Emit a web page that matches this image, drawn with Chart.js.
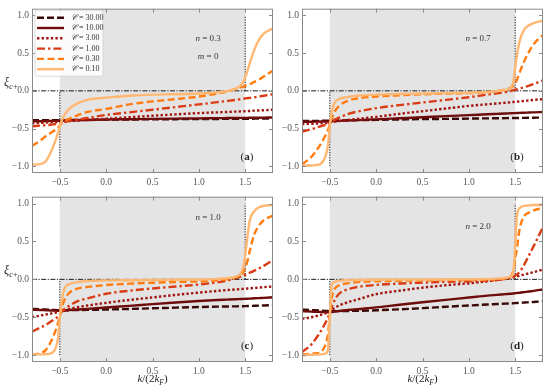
<!DOCTYPE html>
<html>
<head>
<meta charset="utf-8">
<script src="https://cdn.jsdelivr.net/npm/chart.js@4/dist/chart.umd.min.js"></script>
<style>
  html, body { margin: 0; padding: 0; background: #fff; }
  .wrap { position: relative; width: 546px; height: 388px; overflow: hidden; }
  .wrap canvas { position: absolute; }
</style>
</head>
<body>
<div class="wrap">
  <canvas id="panelA" width="276" height="190" style="left:0;top:0"></canvas>
  <canvas id="panelB" width="276" height="190" style="left:270px;top:0"></canvas>
  <canvas id="panelC" width="276" height="200" style="left:0;top:188px"></canvas>
  <canvas id="panelD" width="276" height="200" style="left:270px;top:188px"></canvas>
</div>
<script>
// k/(2kF) sample points shared by every curve
const kGrid = [-0.8, -0.7, -0.65, -0.6, -0.55, -0.52, -0.5, -0.48, -0.45, -0.4, -0.3, -0.2, 0, 0.25, 0.5, 0.75, 1.0, 1.2, 1.3, 1.4, 1.45, 1.48, 1.5, 1.52, 1.55, 1.6, 1.65, 1.7, 1.8]
const couplings = ['30.00', '10.00', '3.00', '1.00', '0.30', '0.10']
const densities = ['0.3', '0.7', '1.0', '2.0']
const panelTags = ['a', 'b', 'c', 'd']
const xTicks = [-0.5, 0, 0.5, 1.0, 1.5]
const yTicks = [-1.0, -0.5, 0, 0.5, 1.0]

// (a) n = 0.3
const xiA_30 = [-0.39, -0.39, -0.39, -0.39, -0.39, -0.39, -0.39, -0.39, -0.388, -0.387, -0.385, -0.384, -0.382, -0.38, -0.378, -0.376, -0.375, -0.373, -0.372, -0.371, -0.371, -0.37, -0.37, -0.37, -0.37, -0.369, -0.368, -0.367, -0.366]
const xiA_10 = [-0.405, -0.403, -0.402, -0.4, -0.399, -0.398, -0.397, -0.396, -0.395, -0.393, -0.39, -0.387, -0.382, -0.377, -0.372, -0.368, -0.365, -0.362, -0.361, -0.36, -0.359, -0.359, -0.358, -0.358, -0.357, -0.357, -0.356, -0.355, -0.353]
const xiA_3 = [-0.43, -0.425, -0.42, -0.418, -0.415, -0.413, -0.41, -0.408, -0.405, -0.4, -0.393, -0.386, -0.37, -0.35, -0.33, -0.312, -0.295, -0.285, -0.28, -0.275, -0.273, -0.271, -0.27, -0.269, -0.267, -0.263, -0.26, -0.257, -0.25]
const xiA_1 = [-0.47, -0.46, -0.455, -0.45, -0.44, -0.435, -0.43, -0.425, -0.415, -0.4, -0.38, -0.36, -0.32, -0.285, -0.25, -0.215, -0.18, -0.15, -0.135, -0.12, -0.11, -0.105, -0.1, -0.097, -0.093, -0.085, -0.075, -0.065, -0.045]
const xiA_03 = [-0.73, -0.65, -0.6, -0.56, -0.52, -0.49, -0.46, -0.43, -0.4, -0.37, -0.32, -0.28, -0.24, -0.18, -0.14, -0.11, -0.075, -0.035, -0.01, 0.025, 0.045, 0.055, 0.065, 0.075, 0.09, 0.12, 0.15, 0.19, 0.27]
const xiA_01 = [-0.98, -0.97, -0.93, -0.82, -0.67, -0.56, -0.47, -0.4, -0.32, -0.24, -0.16, -0.12, -0.09, -0.065, -0.05, -0.045, -0.035, -0.02, -0.005, 0.03, 0.07, 0.12, 0.18, 0.25, 0.37, 0.55, 0.68, 0.76, 0.83]

// (b) n = 0.7
const xiB_30 = [-0.4, -0.4, -0.399, -0.398, -0.397, -0.396, -0.395, -0.395, -0.394, -0.393, -0.391, -0.389, -0.385, -0.38, -0.375, -0.372, -0.368, -0.365, -0.364, -0.362, -0.361, -0.361, -0.36, -0.36, -0.359, -0.358, -0.357, -0.356, -0.354]
const xiB_10 = [-0.41, -0.409, -0.408, -0.407, -0.406, -0.405, -0.404, -0.403, -0.401, -0.398, -0.393, -0.388, -0.378, -0.364, -0.35, -0.335, -0.322, -0.31, -0.305, -0.3, -0.297, -0.296, -0.295, -0.294, -0.292, -0.29, -0.287, -0.285, -0.28]
const xiB_3 = [-0.44, -0.437, -0.435, -0.432, -0.428, -0.425, -0.42, -0.415, -0.41, -0.4, -0.385, -0.372, -0.345, -0.305, -0.27, -0.235, -0.2, -0.178, -0.168, -0.157, -0.152, -0.148, -0.145, -0.143, -0.14, -0.133, -0.127, -0.12, -0.11]
const xiB_1 = [-0.54, -0.51, -0.49, -0.47, -0.45, -0.435, -0.42, -0.405, -0.385, -0.355, -0.305, -0.275, -0.23, -0.19, -0.155, -0.12, -0.085, -0.05, -0.033, -0.015, -0.002, 0.008, 0.015, 0.022, 0.032, 0.05, 0.068, 0.09, 0.14]
const xiB_03 = [-0.97, -0.88, -0.8, -0.71, -0.6, -0.52, -0.45, -0.37, -0.28, -0.2, -0.13, -0.1, -0.075, -0.058, -0.045, -0.037, -0.03, -0.017, -0.005, 0.02, 0.04, 0.065, 0.1, 0.15, 0.25, 0.4, 0.52, 0.62, 0.74]
const xiB_01 = [-0.99, -0.99, -0.985, -0.97, -0.88, -0.72, -0.47, -0.28, -0.16, -0.11, -0.08, -0.065, -0.05, -0.042, -0.035, -0.03, -0.025, -0.015, -0.005, 0.012, 0.035, 0.12, 0.3, 0.48, 0.67, 0.82, 0.87, 0.9, 0.93]

// (c) n = 1.0
const xiC_30 = [-0.39, -0.395, -0.398, -0.4, -0.405, -0.407, -0.408, -0.408, -0.408, -0.407, -0.405, -0.403, -0.398, -0.39, -0.382, -0.373, -0.365, -0.36, -0.358, -0.356, -0.355, -0.354, -0.353, -0.352, -0.351, -0.349, -0.347, -0.345, -0.34]
const xiC_10 = [-0.4, -0.405, -0.408, -0.41, -0.413, -0.415, -0.415, -0.413, -0.41, -0.405, -0.397, -0.39, -0.372, -0.35, -0.327, -0.305, -0.285, -0.272, -0.267, -0.262, -0.26, -0.258, -0.257, -0.256, -0.254, -0.25, -0.247, -0.244, -0.237]
const xiC_3 = [-0.5, -0.475, -0.463, -0.452, -0.44, -0.433, -0.428, -0.42, -0.41, -0.392, -0.365, -0.345, -0.31, -0.272, -0.238, -0.205, -0.175, -0.152, -0.142, -0.133, -0.128, -0.125, -0.123, -0.121, -0.118, -0.113, -0.108, -0.103, -0.093]
const xiC_1 = [-0.69, -0.63, -0.6, -0.56, -0.52, -0.49, -0.46, -0.43, -0.39, -0.35, -0.285, -0.25, -0.19, -0.15, -0.12, -0.095, -0.068, -0.038, -0.018, 0.015, 0.035, 0.05, 0.062, 0.072, 0.088, 0.115, 0.145, 0.178, 0.255]
const xiC_03 = [-0.99, -0.97, -0.93, -0.83, -0.69, -0.58, -0.48, -0.38, -0.27, -0.18, -0.12, -0.1, -0.075, -0.057, -0.045, -0.035, -0.027, -0.013, 0, 0.03, 0.06, 0.1, 0.15, 0.22, 0.38, 0.6, 0.71, 0.78, 0.84]
const xiC_01 = [-0.99, -0.99, -0.985, -0.98, -0.92, -0.78, -0.52, -0.28, -0.12, -0.065, -0.035, -0.022, -0.014, -0.011, -0.009, -0.006, -0.003, 0.006, 0.015, 0.035, 0.075, 0.17, 0.32, 0.52, 0.78, 0.9, 0.95, 0.97, 0.98]

// (d) n = 2.0
const xiD_30 = [-0.4, -0.405, -0.408, -0.412, -0.416, -0.418, -0.42, -0.42, -0.42, -0.419, -0.417, -0.415, -0.408, -0.395, -0.38, -0.362, -0.345, -0.332, -0.326, -0.32, -0.317, -0.315, -0.313, -0.312, -0.31, -0.306, -0.302, -0.298, -0.29]
const xiD_10 = [-0.42, -0.425, -0.428, -0.43, -0.432, -0.433, -0.433, -0.43, -0.425, -0.418, -0.405, -0.393, -0.37, -0.335, -0.302, -0.27, -0.24, -0.215, -0.205, -0.195, -0.19, -0.186, -0.183, -0.18, -0.176, -0.168, -0.16, -0.152, -0.133]
const xiD_3 = [-0.52, -0.5, -0.485, -0.47, -0.45, -0.435, -0.422, -0.405, -0.38, -0.345, -0.3, -0.265, -0.195, -0.15, -0.11, -0.078, -0.052, -0.025, -0.01, 0.008, 0.018, 0.026, 0.032, 0.038, 0.048, 0.065, 0.08, 0.095, 0.13]
const xiD_1 = [-0.96, -0.86, -0.78, -0.69, -0.58, -0.51, -0.44, -0.37, -0.28, -0.19, -0.13, -0.1, -0.073, -0.055, -0.043, -0.033, -0.026, -0.017, -0.009, 0.009, 0.022, 0.035, 0.05, 0.065, 0.1, 0.2, 0.32, 0.44, 0.69]
const xiD_03 = [-0.99, -0.98, -0.975, -0.96, -0.87, -0.72, -0.47, -0.25, -0.13, -0.08, -0.05, -0.036, -0.025, -0.018, -0.013, -0.01, -0.008, -0.004, 0, 0.013, 0.035, 0.12, 0.26, 0.42, 0.68, 0.84, 0.88, 0.91, 0.94]
const xiD_01 = [-1.0, -0.995, -0.993, -0.99, -0.98, -0.93, -0.5, -0.08, -0.035, -0.017, -0.01, -0.008, -0.005, -0.004, -0.003, -0.002, 0, 0.004, 0.01, 0.02, 0.04, 0.1, 0.45, 0.85, 0.94, 0.97, 0.975, 0.98, 0.98]

const panelSeries = [
  [xiA_30, xiA_10, xiA_3, xiA_1, xiA_03, xiA_01],
  [xiB_30, xiB_10, xiB_3, xiB_1, xiB_03, xiB_01],
  [xiC_30, xiC_10, xiC_3, xiC_1, xiC_03, xiC_01],
  [xiD_30, xiD_10, xiD_3, xiD_1, xiD_03, xiD_01]
]

const lineStyles = [
  {color: '#3a0a08', dash: [7, 3]},
  {color: '#6e0c0c', dash: []},
  {color: '#a11510', dash: [2.4, 2.2]},
  {color: '#d93c14', dash: [8, 3, 2.4, 3]},
  {color: '#ff7c12', dash: [7, 3.5]},
  {color: '#ffb772', dash: []}
]

const serif = '"Liberation Serif", "DejaVu Serif", serif'
const tickGray = '#555'
const frameGray = '#8a8a8a'

function fmtTick(v) {
  const s = Number(v).toFixed(1)
  return s.replace('-', '\u2212')
}

// draws runs of text with different fonts one after another
function drawRuns(ctx, runs, x, y, align) {
  let total = 0
  runs.forEach(r => { ctx.font = r.font; total += ctx.measureText(r.text).width })
  let cx = align === 'center' ? x - total / 2 : x
  runs.forEach(r => {
    ctx.font = r.font
    ctx.fillText(r.text, cx, y + (r.dy || 0))
    cx += ctx.measureText(r.text).width
  })
}

const shadePlugin = {
  id: 'shade',
  beforeDatasetsDraw(chart) {
    const {ctx, chartArea: a, scales: {x}} = chart
    const x0 = x.getPixelForValue(-0.5)
    const x1 = x.getPixelForValue(1.5)
    ctx.save()
    ctx.fillStyle = '#e4e4e4'
    ctx.fillRect(x0, a.top, x1 - x0, a.height)
    ctx.restore()
  }
}

const framePlugin = {
  id: 'frame',
  afterDraw(chart) {
    const {ctx, chartArea: a, scales: {x, y}} = chart
    const opts = chart.options.plugins.frame
    ctx.save()
    ctx.strokeStyle = frameGray
    ctx.lineWidth = 1
    ctx.strokeRect(a.left + 0.5, a.top + 0.5, a.width - 1, a.height - 1)
    ctx.beginPath()
    xTicks.forEach(v => {
      const px = Math.round(x.getPixelForValue(v)) + 0.5
      ctx.moveTo(px, a.bottom); ctx.lineTo(px, a.bottom - 4)
      ctx.moveTo(px, a.top); ctx.lineTo(px, a.top + 4)
    })
    yTicks.forEach(v => {
      const py = Math.round(y.getPixelForValue(v)) + 0.5
      ctx.moveTo(a.left, py); ctx.lineTo(a.left + 4, py)
      ctx.moveTo(a.right, py); ctx.lineTo(a.right - 4, py)
    })
    ctx.stroke()

    ctx.fillStyle = '#333'
    ctx.textBaseline = 'alphabetic'
    const nx = x.getPixelForValue(opts.nAt[0])
    const ny = y.getPixelForValue(opts.nAt[1])
    drawRuns(ctx, [
      {text: 'n', font: `italic 9px ${serif}`},
      {text: ' = ' + opts.density, font: `9px ${serif}`}
    ], nx, ny, 'center')
    if (opts.showM) {
      drawRuns(ctx, [
        {text: 'm', font: `italic 9px ${serif}`},
        {text: ' = 0', font: `9px ${serif}`}
      ], nx, ny + 18, 'center')
    }

    ctx.fillStyle = '#222'
    drawRuns(ctx, [
      {text: '(', font: `11px ${serif}`},
      {text: opts.tag, font: `bold 11px ${serif}`},
      {text: ')', font: `11px ${serif}`}
    ], a.right - 26, a.bottom - 13, 'center')

    if (opts.yTitle) {
      drawRuns(ctx, [
        {text: '\u03BE', font: `italic 12px ${serif}`},
        {text: 'c+', font: `italic 8px ${serif}`, dy: 3}
      ], 4, y.getPixelForValue(0) - 5, 'left')
    }
    if (opts.xTitle) {
      drawRuns(ctx, [
        {text: 'k', font: `italic 11px ${serif}`},
        {text: '/(2', font: `11px ${serif}`},
        {text: 'k', font: `italic 11px ${serif}`},
        {text: 'F', font: `italic 7.5px ${serif}`, dy: 2.5},
        {text: ')', font: `11px ${serif}`}
      ], (a.left + a.right) / 2, chart.height - 6, 'center')
    }

    if (opts.legend) {
      const lx = a.left + 3, ly = a.top + 1.5, lw = 68, lh = 66
      ctx.fillStyle = 'rgba(255,255,255,0.85)'
      ctx.strokeStyle = '#d0d0d0'
      ctx.lineWidth = 0.8
      ctx.beginPath()
      ctx.roundRect(lx, ly, lw, lh, 2)
      ctx.fill()
      ctx.stroke()
      chart.data.datasets.filter(d => d.label).forEach((d, i) => {
        const ry = ly + 7.5 + i * 10.3
        ctx.strokeStyle = d.borderColor
        ctx.lineWidth = d.borderWidth
        ctx.setLineDash(d.borderDash)
        ctx.beginPath()
        ctx.moveTo(lx + 2, ry)
        ctx.lineTo(lx + 29, ry)
        ctx.stroke()
        ctx.setLineDash([])
        ctx.fillStyle = '#333'
        ctx.textBaseline = 'middle'
        drawRuns(ctx, [
          {text: '\uD835\uDC9E', font: `italic 8px ${serif}`},
          {text: ' = ' + d.label, font: `8px ${serif}`}
        ], lx + 36, ry, 'left')
      })
    }
    ctx.restore()
  }
}

function makePanel(idx, extra) {
  const series = panelSeries[idx]
  const datasets = series.map((vals, i) => ({
    label: couplings[i],
    data: kGrid.map((k, j) => ({x: k, y: vals[j]})),
    borderColor: lineStyles[i].color,
    borderDash: lineStyles[i].dash,
    borderWidth: 2.4,
    pointRadius: 0,
    cubicInterpolationMode: 'monotone',
    order: couplings.length - i
  }))
  // C -> 0 reference: step edges and the zero line
  datasets.push({
    data: [{x: -0.8, y: 0}, {x: 1.8, y: 0}],
    borderColor: '#000', borderWidth: 0.9, borderDash: [5, 1.5, 1.2, 1.5],
    pointRadius: 0, order: 20
  })
  datasets.push({
    data: [{x: -0.5, y: -1}, {x: -0.5, y: 0}, {x: null, y: null}, {x: 1.5, y: 0}, {x: 1.5, y: 1}],
    borderColor: '#000', borderWidth: 0.9, borderDash: [1.3, 1.3],
    pointRadius: 0, spanGaps: false, order: 21
  })

  new Chart(document.getElementById(extra.canvas), {
    type: 'line',
    data: {datasets},
    options: {
      responsive: false,
      animation: false,
      layout: {padding: {top: 4, right: 3, left: 0, bottom: 0}},
      plugins: {
        legend: {display: false},
        tooltip: {enabled: false},
        frame: {
          density: densities[idx], tag: panelTags[idx], nAt: extra.nAt,
          showM: idx === 0, legend: idx === 0,
          yTitle: idx % 2 === 0, xTitle: idx >= 2
        }
      },
      scales: {
        x: {
          type: 'linear', min: -0.8, max: 1.8,
          grid: {display: false, drawTicks: false},
          border: {display: false},
          afterBuildTicks: s => { s.ticks = xTicks.map(v => ({value: v})) },
          afterFit: s => { s.height = extra.xAxisH },
          ticks: {font: {family: serif, size: 9.5}, color: tickGray, padding: 4, maxRotation: 0, callback: fmtTick}
        },
        y: {
          type: 'linear', min: -1.09, max: 1.09,
          grid: {display: false, drawTicks: false},
          border: {display: false},
          afterBuildTicks: s => { s.ticks = yTicks.map(v => ({value: v})) },
          afterFit: s => { s.width = 32 },
          ticks: {font: {family: serif, size: 9.5}, color: tickGray, padding: 3, callback: fmtTick}
        }
      }
    },
    plugins: [shadePlugin, framePlugin]
  })
}

makePanel(0, {canvas: 'panelA', xAxisH: 17, nAt: [1.1, 0.66]})
makePanel(1, {canvas: 'panelB', xAxisH: 17, nAt: [1.1, 0.66]})
makePanel(2, {canvas: 'panelC', xAxisH: 26, nAt: [1.1, 0.78]})
makePanel(3, {canvas: 'panelD', xAxisH: 26, nAt: [1.1, 0.67]})
</script>
</body>
</html>
